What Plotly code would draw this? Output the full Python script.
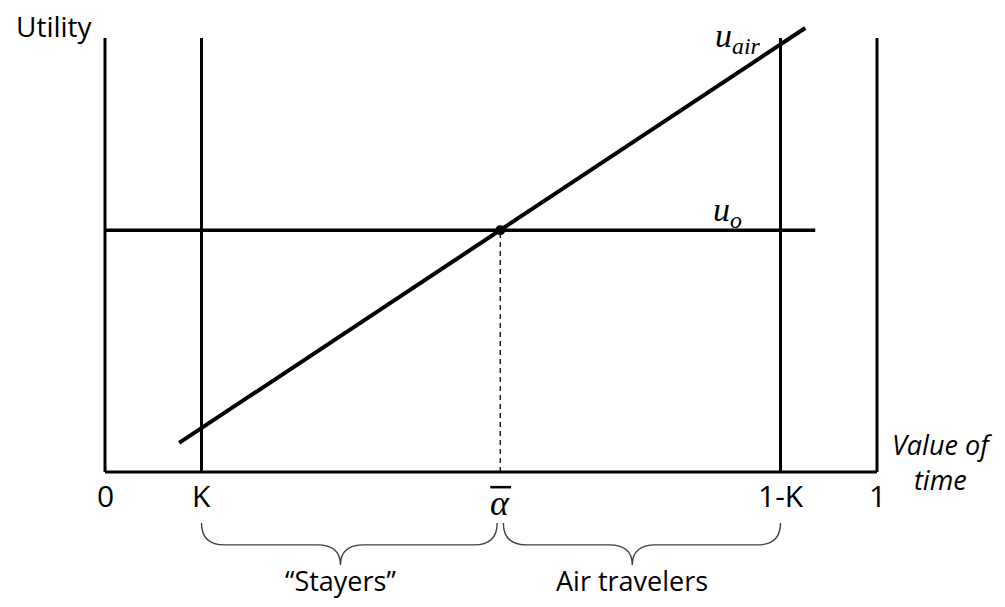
import plotly.graph_objects as go

# positions along the "value of time" axis (0..1)
K = 0.125
alpha_bar = 0.512
tick_vals = [0, K, alpha_bar, 1 - K, 1]
tick_text = ["0", "K", "", "1-K", "1"]

# utility lines
u_o = 0.557
u_o_x = [0, 0.92]
u_air_x = [0.096, 0.907]
u_air_y = [0.067, 1.023]

# vertical guides
verticals = [0, K, 1 - K, 1]
v_top = 1.0

# braces: (start, end, tip, label)
braces = [(K, alpha_bar - 0.004, 0.305, "\u201cStayers\u201d"),
          (alpha_bar + 0.004, 1 - K, 0.683, "Air travelers")]

SANS = "Open Sans"
SERIF = "Liberation Serif"

fig = go.Figure()

line = dict(color="black", width=3)
# x axis
fig.add_trace(go.Scatter(x=[0, 1], y=[0, 0], mode="lines", line=line))
for v in verticals:
    fig.add_trace(go.Scatter(x=[v, v], y=[0, v_top], mode="lines", line=line))

fig.add_trace(go.Scatter(x=u_o_x, y=[u_o, u_o], mode="lines",
                         line=dict(color="black", width=3.5)))
fig.add_trace(go.Scatter(x=u_air_x, y=u_air_y, mode="lines",
                         line=dict(color="black", width=4)))
fig.add_trace(go.Scatter(x=[alpha_bar, alpha_bar], y=[0, u_o], mode="lines",
                         line=dict(color="black", width=1.3, dash="5px,4px")))
fig.add_trace(go.Scatter(x=[alpha_bar], y=[u_o], mode="markers",
                         marker=dict(color="black", size=10)))

# tick labels
for v, t in zip(tick_vals, tick_text):
    if t:
        fig.add_annotation(x=v, y=-0.055, text=t, showarrow=False,
                           font=dict(family=SANS, size=30, color="black"))
# alpha bar label
fig.add_annotation(x=alpha_bar, y=-0.072, text="<i>\u03b1</i>", showarrow=False,
                   font=dict(family=SERIF, size=36, color="black"))
fig.add_shape(type="line", x0=alpha_bar - 0.013, x1=alpha_bar + 0.014,
              y0=-0.035, y1=-0.035, line=dict(color="black", width=2.5))

fig.add_annotation(x=-0.066, y=1.027, text="Utility", showarrow=False,
                   font=dict(family=SANS, size=28, color="black"))
fig.add_annotation(x=1.084, y=0.023, text="<i>Value of<br>time</i>", showarrow=False,
                   font=dict(family=SANS, size=27, color="black"))
fig.add_annotation(x=0.82, y=1.0, text="<i>u</i><sub><i>air</i></sub>", showarrow=False,
                   font=dict(family=SERIF, size=34, color="black"))
fig.add_annotation(x=0.806, y=0.598, text="<i>u</i><sub><i>o</i></sub>", showarrow=False,
                   font=dict(family=SERIF, size=34, color="black"))

# braces
y_top, y_mid, y_tip = -0.1175, -0.168, -0.214
c = 0.03
for x0, x1, xm, label in braces:
    path = (f"M {x0},{y_top} Q {x0},{y_mid} {x0 + c},{y_mid} "
            f"L {xm - c},{y_mid} Q {xm},{y_mid} {xm},{y_tip} "
            f"Q {xm},{y_mid} {xm + c},{y_mid} "
            f"L {x1 - c},{y_mid} Q {x1},{y_mid} {x1},{y_top}")
    fig.add_shape(type="path", path=path, line=dict(color="#404040", width=1.4))
    fig.add_annotation(x=xm, y=-0.251, text=label, showarrow=False,
                       font=dict(family=SANS, size=27, color="black"))

# page body has an 8px margin, so the figure is sized to fit inside the window
fig.update_layout(
    width=989, height=591,
    margin=dict(l=0, r=0, t=0, b=0),
    paper_bgcolor="white", plot_bgcolor="white",
    showlegend=False,
    xaxis=dict(range=[-0.125648, 1.155440], visible=False),
    yaxis=dict(range=[-0.292627, 1.069124], visible=False),
)

fig.write_html("out.html")
